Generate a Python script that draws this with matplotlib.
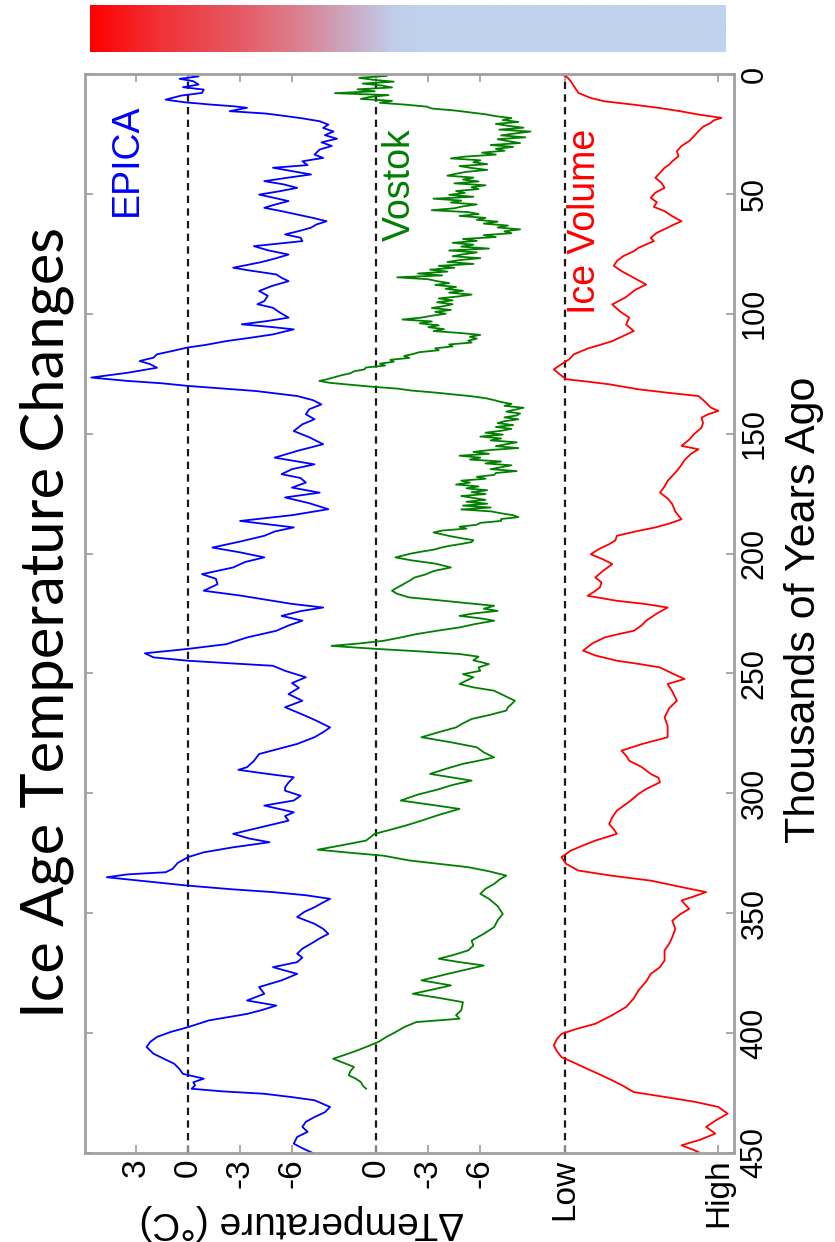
import numpy as np
import matplotlib
matplotlib.use("Agg")
import matplotlib.pyplot as plt
from matplotlib.colors import LinearSegmentedColormap

# ---------------------------------------------------------------- data
# EPICA Dome C temperature anomaly (deg C) vs. age (kyr before present)
epica_age = [0, 1, 2, 3, 4.4, 5.5, 6.5, 7.9, 9, 10.7, 11.8, 12.8, 13.5, 14.1, 15.5, 16.5,
             17.5, 18.5, 19.7, 21.1, 22.5, 24, 25.5, 27, 28.5, 30, 31.5, 33.6, 35, 36.4, 38,
             39.1, 40.5, 41.9, 43.2, 44.7, 46, 47.5, 49, 50.3, 51.7, 53, 54.5, 55.8, 57.2,
             58.6, 60, 61.4, 62.8, 64.1, 65.5, 66.9, 68.3, 69.7, 71.8, 73.5, 75.3, 77, 78.5,
             80.8, 82, 83.6, 85, 86.4, 88.5, 90.5, 92.5, 94.7, 96, 97.5, 99.5, 101.6, 103,
             104.4, 105.5, 106.5, 108.6, 110, 111.4, 113, 114.1, 115.5, 116.9, 118.3, 119.7,
             121, 122.5, 124.6, 126.6, 128, 129, 130.1, 131.2, 132.2, 134.3, 136, 137.8,
             139.8, 141.9, 144, 146.1, 148.9, 151.5, 154.4, 157, 160, 162.8, 164.8, 166.9,
             168.5, 170.4, 172.5, 174.6, 176.6, 179, 181.5, 184, 186.4, 189.1, 190.8, 192.6,
             195, 197.5, 199.5, 201.6, 203.5, 205.8, 208.6, 210.5, 212.8, 215.5, 217.5,
             219.7, 221, 222.5, 224, 226, 228, 230, 232.2, 235, 237.8, 239.8, 241.6, 243.3,
             244.7, 245.8, 246.8, 248.9, 251.6, 254, 256, 258.6, 261.4, 264.1, 266.5, 269,
             272.5, 274.5, 276.6, 279.4, 281.5, 283.6, 286.5, 289.1, 290.2, 291.8, 293.3,
             295.5, 297.5, 298.9, 301, 303, 305.1, 307.9, 309.5, 311.4, 314, 316.9, 318.8,
             320.4, 322.5, 324.6, 326.6, 329, 331.5, 332.9, 333.8, 335, 336.4, 338.5, 340,
             341.2, 342.5, 344, 345.5, 347.5, 349.5, 351.6, 354.4, 356.5, 358.6, 360.5,
             362.7, 364.8, 366.9, 368.5, 370.4, 372.5, 375.3, 378, 380.8, 383.6, 386.4,
             388.5, 390.3, 392, 394.7, 397.5, 399.5, 401.6, 403.7, 405.8, 408.6, 410.7,
             412.8, 415, 417, 419, 420.5, 421.8, 423.2, 424.3, 425.3, 426.7, 428, 430.8, 433,
             435, 437, 439.1, 441.2, 443.3, 446.1, 448, 450]
epica_temp = [0.1, -0.6, 0.5, -0.3, -0.6, 0.3, -0.9, -0.8, 0.4, 1.3, 0.2, -1.4, -2.7, -3.4,
              -2.4, -4.5, -5.6, -6.6, -7.6, -8.1, -7.8, -8.4, -7.9, -8.6, -7.7, -8.3, -7.6,
              -7.3, -7.8, -6.6, -6.9, -4.9, -6.0, -7.1, -5.8, -4.4, -5.5, -6.3, -5.2, -4.1,
              -5.0, -5.8, -5.0, -4.4, -5.4, -6.3, -7.2, -8.0, -7.4, -7.1, -6.4, -5.6, -6.5,
              -6.6, -3.8, -4.6, -5.8, -5.0, -4.2, -2.6, -3.6, -5.1, -5.4, -5.8, -4.8, -4.1,
              -4.6, -4.4, -4.0, -4.9, -5.3, -5.8, -4.6, -3.1, -4.8, -6.1, -4.9, -3.6, -2.2,
              -1.0, 0.06, 0.9, 1.8, 2.0, 2.8, 2.2, 1.8, 3.5, 5.6, 3.5, 1.5, 0.0, -2.0, -3.9,
              -6.3, -7.2, -7.7, -7.0, -6.8, -7.3, -6.6, -6.1, -7.0, -7.8, -6.4, -5.0, -7.3,
              -6.0, -5.4, -6.5, -6.8, -6.0, -7.6, -5.6, -7.0, -8.1, -6.0, -3.0, -6.1, -5.0,
              -4.4, -3.0, -1.4, -3.0, -4.4, -3.3, -2.6, -0.8, -1.6, -1.7, -0.9, -3.0, -4.9,
              -6.0, -7.8, -6.5, -5.4, -6.6, -5.8, -5.1, -3.4, -2.2, 0.06, 2.5, 2.0, 0.0,
              -2.5, -4.9, -5.6, -6.8, -6.0, -6.4, -5.8, -6.6, -5.6, -6.4, -7.2, -8.2, -7.8,
              -7.3, -6.3, -5.2, -4.1, -3.8, -3.4, -2.9, -4.5, -6.1, -5.8, -5.6, -5.6, -6.5,
              -6.1, -4.4, -6.1, -5.6, -5.8, -4.3, -2.6, -3.5, -4.7, -2.6, -0.9, 0.0, 0.6,
              0.9, 1.3, 3.5, 4.7, 2.8, 0.0, -2.5, -4.9, -6.8, -8.2, -7.8, -7.3, -6.7, -6.3,
              -7.3, -7.8, -8.1, -7.6, -7.1, -6.6, -6.3, -6.6, -6.3, -4.9, -6.3, -5.4, -4.1,
              -4.4, -3.4, -5.1, -4.3, -3.4, -1.2, 0.0, 1.0, 1.8, 2.2, 2.4, 2.0, 1.4, 0.8,
              0.5, 0.3, -0.9, -0.3, -0.4, -0.2, -2.0, -4.4, -6.0, -7.3, -8.2, -7.9, -7.3,
              -6.8, -6.6, -6.9, -6.3, -6.1, -6.6, -7.2]

# Vostok temperature anomaly (deg C): high-resolution part, one value every 0.8 kyr
# from 0 to 200 kyr ...
VOSTOK_RECENT_STEP = 0.8
vostok_recent_temp = [
    0.3, -0.6, 1.0, 0.2, -1.0, 0.8, -0.3, -0.9, 1.1, 0.1,
    2.4, -0.7, 0.4, 0.9, -0.9, -0.2, -1.7, -2.9, -3.2, -4.5,
    -5.4, -6.3, -6.9, -7.8, -7.3, -8.2, -6.9, -7.6, -8.5, -7.1,
    -8.9, -8.0, -7.2, -8.6, -7.0, -7.6, -8.3, -6.6, -7.9, -6.9,
    -7.4, -6.1, -6.9, -5.2, -4.3, -6.0, -5.6, -6.4, -4.8, -5.5,
    -6.4, -5.2, -4.6, -4.1, -5.6, -5.0, -5.9, -4.5, -6.3, -5.5,
    -5.9, -4.6, -5.1, -4.2, -5.6, -3.3, -4.9, -4.3, -5.8, -5.0,
    -4.5, -3.2, -5.3, -5.9, -4.8, -6.3, -5.8, -7.0, -6.2, -7.6,
    -7.0, -8.3, -7.4, -7.8, -6.2, -6.9, -5.0, -5.8, -4.4, -5.6,
    -4.9, -6.5, -4.2, -5.8, -5.0, -4.4, -6.0, -4.8, -4.1, -5.6,
    -3.6, -4.5, -3.1, -4.1, -2.4, -3.8, -1.2, -3.0, -3.5, -4.2,
    -3.4, -4.6, -4.0, -5.0, -4.2, -5.5, -4.7, -3.6, -4.4, -3.5,
    -4.4, -3.9, -3.2, -4.3, -3.4, -4.0, -3.2, -2.6, -1.5, -3.2,
    -2.5, -3.6, -3.0, -3.9, -3.3, -4.8, -6.0, -5.4, -5.8, -5.3,
    -5.5, -4.2, -4.4, -3.4, -3.6, -2.5, -2.1, -1.6, -1.9, -0.8,
    -1.0, -0.2, -0.5, 0.6, 0.7, 1.3, 1.5, 2.0, 2.4, 2.8,
    3.3, 2.7, 1.5, 0.3, -1.2, -2.0, -3.3, -4.4, -5.5, -6.3,
    -6.8, -7.2, -7.8, -7.4, -8.5, -8.0, -7.5, -8.3, -8.1, -7.4,
    -8.2, -7.4, -7.0, -7.9, -6.9, -7.8, -7.2, -6.3, -7.3, -6.0,
    -7.2, -6.6, -8.1, -7.5, -6.9, -8.2, -6.6, -5.6, -6.5, -4.8,
    -6.0, -5.4, -7.2, -6.3, -7.8, -7.2, -6.6, -8.1, -6.9, -6.8,
    -5.8, -6.3, -4.9, -5.4, -4.6, -5.9, -5.2, -6.4, -5.5, -6.3,
    -4.9, -5.6, -6.3, -5.2, -6.4, -5.0, -6.6, -4.9, -6.6, -7.2,
    -7.9, -8.2, -7.2, -7.2, -6.0, -5.8, -4.8, -5.2, -3.8, -3.3,
    -3.8, -4.3, -4.9, -5.6, -5.5, -4.9, -4.2, -3.7, -3.3, -2.6,
    -2.0]
# ... and the coarser older part
vostok_old_age = [201.6, 202.8, 204.2, 205.8, 207.3, 208.8, 210, 211.4, 213, 214.2, 215.5,
                  216.8, 218.3, 219.2, 220.5, 221.8, 223, 223.9, 225, 226, 227, 228, 229.4,
                  230.8, 232.2, 233.6, 235, 236.4, 237.5, 238.5, 239.2, 239.8, 240.8, 241.9,
                  243, 244.5, 246.1, 247.5, 248.9, 250.3, 251.6, 253, 254.4, 255.8, 257.2,
                  258.6, 260, 261.4, 262.8, 264.1, 265.5, 267.2, 269, 270.8, 272.5, 274.5,
                  276.6, 278.7, 280.8, 282.9, 285, 286.4, 287.7, 289.8, 291.9, 293.3, 294.7,
                  296.5, 298.5, 300.5, 303, 304.7, 306.5, 309, 311.4, 313.2, 315, 316.9,
                  319.7, 321.8, 323.5, 324.8, 326, 328, 329.4, 330.8, 332.5, 334.3, 336,
                  337.8, 339.8, 341.9, 344, 347, 350.3, 353, 355.8, 358.6, 361.4, 363.5,
                  365.5, 367.3, 369, 370.4, 371.8, 373.5, 375.5, 378, 380.1, 381.9, 383.6,
                  385.3, 387.1, 390.5, 392.5, 394, 395.4, 397.5, 399.6, 401.5, 403.7, 405.5,
                  407.2, 409, 410.7, 412.4, 414.1, 415.8, 417.6, 419, 420.4, 421.8, 423.2]
vostok_old_temp = [-1.1, -2.0, -3.4, -4.3, -3.3, -2.8, -2.2, -1.9, -1.5, -1.2, -0.9, -1.2,
                   -1.9, -3.2, -5.0, -6.8, -6.2, -7.0, -5.6, -4.8, -6.0, -6.8, -5.7, -4.8,
                   -3.5, -2.3, -1.4, -0.4, 1.0, 2.6, 1.2, -0.1, -2.5, -4.8, -5.9, -5.6, -6.5,
                   -5.9, -6.0, -5.0, -5.6, -5.2, -4.8, -5.6, -6.8, -7.2, -7.6, -8.0, -7.8,
                   -7.6, -7.5, -6.6, -5.5, -5.0, -4.6, -3.6, -2.6, -4.3, -5.8, -6.2, -6.8,
                   -5.9, -5.0, -4.0, -3.1, -4.3, -5.5, -4.4, -3.5, -2.4, -1.4, -3.1, -4.8,
                   -3.6, -2.6, -1.8, -0.9, 0.1, 0.6, 2.1, 3.4, 1.5, -0.4, -1.9, -3.6, -5.3,
                   -6.5, -7.5, -7.1, -6.8, -6.3, -6.0, -6.5, -7.0, -7.3, -7.0, -6.8, -6.2,
                   -5.5, -5.6, -5.3, -4.5, -3.6, -4.8, -6.2, -5.2, -4.0, -2.6, -4.3, -3.2,
                   -2.1, -3.6, -5.0, -4.9, -4.6, -4.8, -2.3, -1.6, -1.1, -0.6, -0.1, 0.5, 1.1,
                   1.8, 2.5, 1.9, 1.3, 1.5, 1.6, 1.2, 0.9, 0.8, 0.6]

# Global ice volume, relative units (0 = present-day "Low", 1 = glacial "High")
ice_age = [0, 1.5, 3, 5, 7.9, 10, 11.4, 12.8, 14.2, 15.5, 16.9, 18.3, 19.3, 20.4, 22, 23.9,
           26, 28, 30, 32.2, 34.3, 36.4, 37.8, 39.1, 41.2, 43.3, 45.4, 47.5, 49.5, 51.6,
           53.5, 55.4, 57.2, 59.3, 61.4, 62.8, 64.1, 66.2, 68.3, 69.7, 72.5, 73.9, 76, 78,
           80, 82.2, 85, 87.8, 90, 93, 96.1, 99, 101.6, 104.5, 107.2, 109.3, 111.4, 113,
           114.5, 116.9, 119, 121, 123.2, 125.3, 127.3, 128.3, 129.4, 131.5, 133, 134.3,
           136.5, 139.1, 140.5, 142, 143.3, 145.5, 147.5, 150.3, 152.5, 155.1, 156.5, 158.5,
           161, 163, 165.5, 169.7, 172, 174.6, 177, 179.4, 182.5, 185.7, 187.5, 189.1, 190.8,
           192.6, 194.5, 196.1, 198.2, 200.3, 202.4, 204.4, 207.2, 210, 212, 214.1, 216,
           217.6, 219.7, 221, 222.5, 225, 228, 230, 232.2, 233.6, 235, 237.5, 240.5, 242.5,
           244.7, 246, 247.5, 250, 252.3, 254.4, 257.5, 261.4, 264.5, 268.3, 272, 276.6,
           279.5, 282.2, 284.3, 286.4, 289, 291.9, 293.5, 295.4, 298.2, 300.3, 303.5, 307.2,
           310, 312.8, 315, 316.9, 319.7, 322, 323.9, 326.6, 329.4, 332.2, 334.3, 336.4,
           339.1, 341.2, 343, 344.7, 348.2, 350.5, 353.1, 356.5, 360, 362.7, 365.5, 369.7,
           372.5, 375.3, 378.5, 382.2, 385.5, 389.1, 392.5, 396.1, 398.2, 400.3, 402.5,
           405.1, 407.5, 410, 412, 414.1, 417, 419.7, 422, 424.6, 426.6, 428.7, 430.8,
           433.6, 436.5, 439.1, 441.9, 444.5, 446.8, 448.5, 449.6]
ice_volume = [-0.02, 0.02, 0.04, 0.06, 0.09, 0.17, 0.26, 0.45, 0.62, 0.75, 0.87, 1.02, 0.97,
              0.95, 0.90, 0.87, 0.84, 0.81, 0.76, 0.73, 0.74, 0.70, 0.68, 0.65, 0.62, 0.59,
              0.63, 0.65, 0.59, 0.56, 0.60, 0.58, 0.65, 0.70, 0.76, 0.71, 0.67, 0.60, 0.56,
              0.58, 0.48, 0.45, 0.38, 0.34, 0.32, 0.37, 0.45, 0.53, 0.46, 0.40, 0.31, 0.36,
              0.42, 0.40, 0.45, 0.38, 0.31, 0.23, 0.15, 0.06, 0.03, -0.02, -0.07, -0.03, 0.01,
              0.15, 0.29, 0.48, 0.68, 0.87, 0.91, 0.95, 1.0, 0.93, 0.89, 0.90, 0.89, 0.84,
              0.81, 0.76, 0.87, 0.82, 0.78, 0.76, 0.73, 0.67, 0.65, 0.62, 0.67, 0.70, 0.72,
              0.76, 0.68, 0.59, 0.46, 0.34, 0.33, 0.29, 0.22, 0.17, 0.25, 0.31, 0.25, 0.20,
              0.24, 0.23, 0.19, 0.15, 0.34, 0.52, 0.67, 0.60, 0.53, 0.50, 0.45, 0.35, 0.26,
              0.18, 0.12, 0.20, 0.34, 0.48, 0.62, 0.70, 0.78, 0.67, 0.70, 0.73, 0.68, 0.65,
              0.67, 0.67, 0.50, 0.37, 0.40, 0.42, 0.50, 0.56, 0.61, 0.62, 0.53, 0.48, 0.42,
              0.34, 0.31, 0.29, 0.32, 0.34, 0.20, 0.11, 0.04, -0.02, 0.01, 0.09, 0.30, 0.56,
              0.76, 0.92, 0.84, 0.76, 0.81, 0.75, 0.70, 0.72, 0.70, 0.68, 0.65, 0.65, 0.62,
              0.56, 0.53, 0.48, 0.45, 0.40, 0.31, 0.20, 0.08, -0.02, -0.05, -0.07, -0.05,
              -0.02, 0.05, 0.12, 0.22, 0.31, 0.38, 0.45, 0.65, 0.85, 1.0, 1.06, 0.98, 0.92,
              0.98, 0.88, 0.76, 0.83, 0.87]

# Horizontal stacking of the three panels (plot units, temperature grows leftwards)
EPICA_ZERO = 5.96
VOSTOK_ZERO = 16.84
ICE_LOW = 27.71
ICE_HIGH = 36.6
X_SPAN = 37.5

temp_ticks_epica = [3, 0, -3, -6]
temp_ticks_vostok = [0, -3, -6]
age_ticks = [0, 50, 100, 150, 200, 250, 300, 350, 400, 450]

# colour strip at the top
strip_pos = [0.0, 0.11, 0.235, 0.32, 0.40, 0.478, 0.52, 1.0]
strip_colors = ["#ff0000", "#f03237", "#e65a64", "#dc7d8c", "#cda5be", "#c0cdeb",
                "#c1d2ee", "#c1d2ee"]

# ---------------------------------------------------------------- figure
W, H = 835, 1242
fig = plt.figure(figsize=(W / 100, H / 100), dpi=100)
fig.patch.set_facecolor("white")

ax_l, ax_r, ax_t, ax_b = 85, 734, 74, 1153
ax = fig.add_axes([ax_l / W, 1 - ax_b / H, (ax_r - ax_l) / W, (ax_b - ax_t) / H])

vostok_recent_age = np.arange(len(vostok_recent_temp)) * VOSTOK_RECENT_STEP
vostok_age = np.concatenate([vostok_recent_age, vostok_old_age])
vostok_temp = np.concatenate([vostok_recent_temp, vostok_old_temp])

LW = 1.3
ax.plot(EPICA_ZERO - np.asarray(epica_temp), epica_age, color="#0000ff", lw=LW)
ax.plot(VOSTOK_ZERO - vostok_temp, vostok_age, color="#007f00", lw=LW)
ax.plot(ICE_LOW + (ICE_HIGH - ICE_LOW) * np.asarray(ice_volume), ice_age,
        color="#ff0000", lw=LW)

for xz in (EPICA_ZERO, VOSTOK_ZERO, ICE_LOW):
    ax.axvline(xz, color="#1a1a1a", lw=1.6, ls=(0, (3.3, 2.4)), zorder=1)

ax.set_xlim(0, X_SPAN)
ax.set_ylim(450, 0)

xt = [EPICA_ZERO - v for v in temp_ticks_epica] + \
     [VOSTOK_ZERO - v for v in temp_ticks_vostok] + [ICE_LOW, ICE_HIGH]
xl = [str(v) for v in temp_ticks_epica] + [str(v) for v in temp_ticks_vostok] + \
     ["Low", "High"]
ax.set_xticks(xt)
ax.set_xticklabels(xl, rotation=90, fontsize=24, family="Liberation Sans")
ax.set_yticks(age_ticks)
ax.set_yticklabels([str(v) for v in age_ticks], rotation=90, va="center",
                   fontsize=22, family="Liberation Sans")

ax.tick_params(axis="both", direction="in", length=6, width=1.2, color="#9a9a9a",
               top=True, bottom=True, left=True, right=True,
               labelleft=False, labelright=True, labelbottom=True, labeltop=False,
               pad=4)
for s in ax.spines.values():
    s.set_color("#a0a0a0")
    s.set_linewidth(2)

ax.yaxis.set_label_position("right")
ax.set_ylabel("Thousands of Years Ago", rotation=90, fontsize=31,
              family="Liberation Sans", ha="center", va="center")
ax.yaxis.set_label_coords((804 - ax_l) / (ax_r - ax_l), 1 - (610 - ax_t) / (ax_b - ax_t))

ax.set_xlabel("\u0394Temperature (\u00b0C)", rotation=180, fontsize=28,
              family="Liberation Sans", ha="center", va="center")
ax.xaxis.set_label_coords((302 - ax_l) / (ax_r - ax_l), -(1222 - ax_b) / (ax_b - ax_t))


def axes_xy(px, py):
    return (px - ax_l) / (ax_r - ax_l), 1 - (py - ax_t) / (ax_b - ax_t)


for name, col, (px, py) in [("EPICA", "#0000ff", (127, 160)),
                            ("Vostok", "#007f00", (400, 185)),
                            ("Ice Volume", "#ff0000", (585, 221))]:
    ax.text(*axes_xy(px, py), name, color=col, rotation=90, fontsize=27,
            family="Liberation Sans", ha="center", va="center", transform=ax.transAxes)

fig.text(47 / W, 1 - 622 / H, "Ice Age Temperature Changes", rotation=90,
         fontsize=43, family="Lato", ha="center", va="center")

# colour strip
cmap = LinearSegmentedColormap.from_list("strip", list(zip(strip_pos, strip_colors)))
cax = fig.add_axes([90 / W, 1 - 52 / H, (726 - 90) / W, 47 / H])
cax.imshow(np.linspace(0, 1, 512)[None, :], cmap=cmap, aspect="auto",
           extent=(0, 1, 0, 1))
cax.set_axis_off()

fig.savefig("out.png", dpi=100, facecolor="white")
